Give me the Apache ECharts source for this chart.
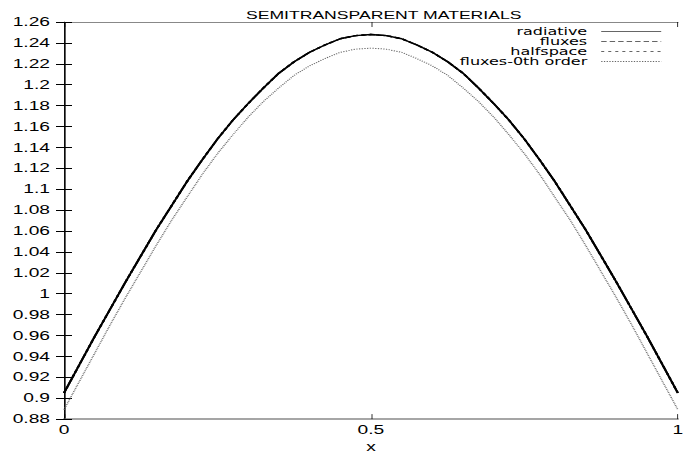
<!DOCTYPE html>
<html>
<head>
<meta charset="utf-8">
<script src="https://cdn.jsdelivr.net/npm/echarts@6/dist/echarts.min.js"></script>
<style>
html,body{margin:0;padding:0;background:#fff;overflow:hidden;}
#wrap{width:688px;height:458px;overflow:hidden;position:relative;}
#c{position:absolute;left:0;top:0;width:430px;height:458px;transform:scaleX(1.6);transform-origin:0 0;}
</style>
</head>
<body>
<div id="wrap"><div id="c"></div></div>
<script>
const titleText = 'SEMITRANSPARENT MATERIALS';
const xName = 'x';
const seriesNames = ['radiative','fluxes','halfspace','fluxes-0th order'];
const xValues = [0,0.025,0.05,0.075,0.1,0.125,0.15,0.175,0.2,0.225,0.25,0.275,0.3,0.325,0.35,0.375,0.4,0.425,0.45,0.475,0.5,
                 0.525,0.55,0.575,0.6,0.625,0.65,0.675,0.7,0.725,0.75,0.775,0.8,0.825,0.85,0.875,0.9,0.925,0.95,0.975,1];
const radiative = [0.905,0.932,0.959,0.985,1.011,1.036,1.061,1.084,1.107,1.128,1.148,1.166,1.182,1.197,1.211,1.222,1.231,1.238,1.244,1.247,1.248,
                   1.247,1.244,1.238,1.231,1.222,1.211,1.197,1.182,1.166,1.148,1.128,1.107,1.084,1.061,1.036,1.011,0.985,0.959,0.932,0.905];
const fluxes = [0.905,0.932,0.959,0.985,1.011,1.036,1.061,1.084,1.107,1.128,1.148,1.166,1.182,1.197,1.211,1.222,1.231,1.238,1.244,1.247,1.248,
                1.247,1.244,1.238,1.231,1.222,1.211,1.197,1.182,1.166,1.148,1.128,1.107,1.084,1.061,1.036,1.011,0.985,0.959,0.932,0.905];
const halfspace = [0.905,0.932,0.959,0.985,1.011,1.036,1.061,1.084,1.107,1.128,1.148,1.166,1.182,1.197,1.211,1.222,1.231,1.238,1.244,1.247,1.248,
                   1.247,1.244,1.238,1.231,1.222,1.211,1.197,1.182,1.166,1.148,1.128,1.107,1.084,1.061,1.036,1.011,0.985,0.959,0.932,0.905];
const fluxes0 = [0.889,0.916,0.943,0.970,0.996,1.021,1.046,1.070,1.092,1.114,1.134,1.152,1.169,1.184,1.197,1.209,1.218,1.225,1.231,1.234,1.235,
                 1.234,1.231,1.225,1.218,1.209,1.197,1.184,1.169,1.152,1.134,1.114,1.092,1.070,1.046,1.021,0.996,0.970,0.943,0.916,0.889];

const S = 1.6; // horizontal stretch applied via CSS to mimic the wide lettering
const W = 688 / S;
const font = 'Liberation Sans';
const pair = arr => xValues.map((x,i)=>[x,arr[i]]);
const fmt = v => String(+(+v).toFixed(2));

const chart = echarts.init(document.getElementById('c'), null, {renderer:'svg', width:W, height:458});
chart.setOption({
  animation:false,
  backgroundColor:'#fff',
  title:{text:titleText,left:238/S,top:5,textStyle:{fontFamily:font,fontSize:11,fontWeight:'normal',color:'#000'}},
  legend:{
    orient:'vertical',right:26/S,top:26.5,padding:0,align:'right',itemGap:0,itemWidth:60/S,itemHeight:8,
    data:seriesNames,
    itemStyle:{color:'transparent',borderWidth:0,opacity:0},
    lineStyle:{width:1,color:'#666'},
    textStyle:{fontFamily:'DejaVu Sans',fontSize:10,color:'#000',lineHeight:10,padding:[0,3.75,0,0]}
  },
  grid:{left:64/S,right:2/S,top:22,bottom:26},
  xAxis:[{
    type:'value',min:0,max:1,interval:0.5,
    name:xName,nameLocation:'middle',nameGap:13,
    nameTextStyle:{fontFamily:font,fontSize:12,color:'#000'},
    axisLine:{show:true,lineStyle:{color:'#888',width:1.5}},
    axisTick:{show:true,inside:true,length:5,lineStyle:{color:'#000',width:1/S}},
    axisLabel:{fontFamily:font,fontSize:12,color:'#000',margin:5,formatter:fmt},
    splitLine:{show:false}
  },{
    type:'value',min:0,max:1,interval:0.5,position:'top',
    axisLine:{show:true,lineStyle:{color:'#888',width:1}},
    axisTick:{show:true,inside:true,length:5,lineStyle:{color:'#000',width:1/S}},
    axisLabel:{show:false},splitLine:{show:false}
  }],
  yAxis:[{
    type:'value',min:0.88,max:1.26,interval:0.02,
    axisLine:{show:true,lineStyle:{color:'#000',width:1.2/S}},
    axisTick:{show:true,inside:true,length:8/S,lineStyle:{color:'#000',width:1}},
    axisLabel:{fontFamily:font,fontSize:12,color:'#000',margin:14/S,formatter:fmt},
    splitLine:{show:false}
  },{
    type:'value',min:0.88,max:1.26,interval:0.02,position:'right',
    axisLine:{show:true,lineStyle:{color:'#000',width:1.2/S}},
    axisTick:{show:true,inside:true,length:8/S,lineStyle:{color:'#000',width:1}},
    axisLabel:{show:false},splitLine:{show:false}
  }],
  series:[
    {name:seriesNames[0],type:'line',data:pair(radiative),symbol:'none',lineStyle:{color:'#000',width:1.4,type:'solid'},itemStyle:{color:'#000'}},
    {name:seriesNames[1],type:'line',data:pair(fluxes),symbol:'none',lineStyle:{color:'#000',width:1.4,type:[3.4,1.9]},itemStyle:{color:'#000'}},
    {name:seriesNames[2],type:'line',data:pair(halfspace),symbol:'none',lineStyle:{color:'#000',width:1.4,type:[1.9,2.5]},itemStyle:{color:'#000'}},
    {name:seriesNames[3],type:'line',data:pair(fluxes0),symbol:'none',lineStyle:{color:'#666',width:1,type:[0.8,0.9]},itemStyle:{color:'#666'}}
  ]
});
</script>
</body>
</html>
